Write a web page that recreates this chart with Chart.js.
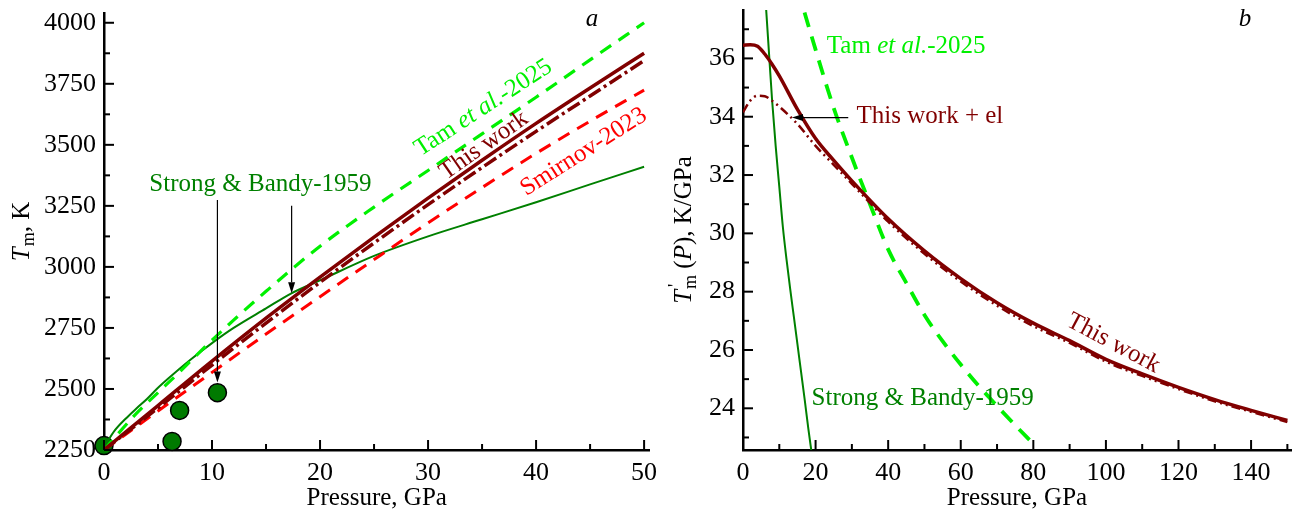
<!DOCTYPE html>
<html>
<head>
<meta charset="UTF-8">
<script src="https://cdn.jsdelivr.net/npm/chart.js@4.4.1/dist/chart.umd.min.js"></script>
<style>
  body { margin: 0; background: #fff; }
  #wrap { position: relative; width: 1292px; height: 518px; }
  .panel { position: absolute; top: 0; height: 518px; }
</style>
</head>
<body>
<div id="wrap">
  <div class="panel" style="left:0;width:660px"><canvas id="chart-a"></canvas></div>
  <div class="panel" style="left:660px;width:632px"><canvas id="chart-b"></canvas></div>
</div>
<script>
// ---- panel a : melting temperature T_m (K) vs pressure (GPa)
var ticksAX     = [0, 10, 20, 30, 40, 50];
var ticksAY     = [2250, 2500, 2750, 3000, 3250, 3500, 3750, 4000];
var pA          = [0, 5, 10, 15, 20, 25, 30, 35, 40, 45, 50];
var thisWorkA   = [2250, 2432, 2614, 2790, 2958, 3122, 3282, 3437, 3588, 3733, 3875];
var thisWorkElA = [2250, 2422, 2598, 2770, 2937, 3098, 3255, 3407, 3555, 3700, 3845];
var smirnovA    = [2250, 2410, 2568, 2725, 2878, 3030, 3180, 3325, 3465, 3597, 3724];
var tamPA       = [0, 3, 5, 7, 10, 12, 15, 20, 25, 30, 35, 40, 45, 50];
var tamA        = [2250, 2400, 2485, 2570, 2700, 2782, 2900, 3085, 3245, 3395, 3545, 3695, 3848, 4000];
var strongPA    = [0, 1, 2, 3, 4, 5, 6, 8, 10, 12, 15, 17.35, 20, 25, 30, 35, 40, 45, 50];
var strongA     = [2262, 2330, 2378, 2420, 2460, 2505, 2545, 2620, 2688, 2750, 2830, 2892, 2945, 3045, 3125, 3195, 3265, 3338, 3410];
var expP        = [0, 6.3, 7.0, 10.5];
var expT        = [2268, 2285, 2412, 2485];

// ---- panel b : slope T'_m (K/GPa) vs pressure (GPa)
var ticksBX     = [0, 20, 40, 60, 80, 100, 120, 140];
var ticksBY     = [24, 26, 28, 30, 32, 34, 36];
var pB          = [0, 2, 4, 6, 8, 10, 15, 20, 25, 30, 40, 50, 60, 70, 80, 90, 100, 110, 120, 130, 140, 150];
var thisWorkB   = [36.45, 36.47, 36.42, 36.15, 35.8, 35.4, 34.25, 33.25, 32.5, 31.8, 30.5, 29.4, 28.45, 27.62, 26.92, 26.32, 25.68, 25.18, 24.72, 24.3, 23.93, 23.58];
var thisWorkElB = [34.15, 34.55, 34.72, 34.7, 34.55, 34.35, 33.75, 33.0, 32.35, 31.7, 30.4, 29.3, 28.35, 27.52, 26.82, 26.24, 25.6, 25.11, 24.66, 24.24, 23.88, 23.53];
var tamPB       = [15, 20, 25, 30, 35, 40, 45, 50, 55, 60, 65, 70, 75, 80];
var tamB        = [38.4, 36.3, 34.3, 32.6, 31.0, 29.45, 28.3, 27.2, 26.3, 25.5, 24.76, 24.08, 23.42, 22.78];
var strongPB    = [6, 7, 8, 9, 10, 11, 12, 13, 14, 15, 16, 17, 18, 19];
var strongB     = [38.4, 36.5, 34.6, 33.0, 31.6, 30.2, 29.1, 28.1, 27.15, 26.2, 25.25, 24.3, 23.3, 22.4];

var colors = {
  maroon: '#800000',
  red: '#ff0000',
  lime: '#00f000',
  green: '#008000'
};

var serif = "'Liberation Serif', 'Times New Roman', serif";
Chart.defaults.font.family = serif;
Chart.defaults.color = '#000';

function xy(xs, ys) {
  return xs.map(function (x, i) { return { x: x, y: ys[i] }; });
}

// ---- rich text (italic / subscript pieces) on the canvas
function segFont(seg, size) {
  var s = (seg.sub || seg.sup) ? Math.round(size * 0.72) : size;
  return (seg.italic ? 'italic ' : '') + s + 'px ' + serif;
}

function richWidth(ctx, segs, size) {
  var w = 0;
  segs.forEach(function (s) {
    ctx.font = segFont(s, size);
    if (!s.overlap) w += ctx.measureText(s.text).width + (s.dx || 0);
  });
  return w;
}

function drawRich(ctx, segs, x, y, angle, size, color, align) {
  ctx.save();
  ctx.translate(x, y);
  ctx.rotate(angle * Math.PI / 180);
  ctx.fillStyle = color;
  ctx.textBaseline = 'alphabetic';
  ctx.textAlign = 'left';
  var cx = align === 'center' ? -richWidth(ctx, segs, size) / 2 : 0;
  segs.forEach(function (s) {
    ctx.font = segFont(s, size);
    var dy = s.sub ? size * 0.2 : (s.sup ? -size * 0.42 : 0);
    ctx.fillText(s.text, cx + (s.dx || 0), dy);
    if (!s.overlap) cx += ctx.measureText(s.text).width + (s.dx || 0);
  });
  ctx.restore();
}

function drawArrow(ctx, x1, y1, x2, y2) {
  var ang = Math.atan2(y2 - y1, x2 - x1);
  var L = 11, W = 3.5;
  var c = Math.cos(ang), s = Math.sin(ang);
  ctx.save();
  ctx.strokeStyle = '#000';
  ctx.fillStyle = '#000';
  ctx.lineWidth = 1.2;
  ctx.beginPath();
  ctx.moveTo(x1, y1);
  ctx.lineTo(x2 - L * c, y2 - L * s);
  ctx.stroke();
  ctx.beginPath();
  ctx.moveTo(x2, y2);
  ctx.lineTo(x2 - L * c - W * s, y2 - L * s + W * c);
  ctx.lineTo(x2 - L * c + W * s, y2 - L * s - W * c);
  ctx.closePath();
  ctx.fill();
  ctx.restore();
}

// inward tick marks, major every 2 minor steps
function drawTicks(chart, id, step) {
  var sc = chart.scales[id], ctx = chart.ctx, area = chart.chartArea;
  ctx.save();
  ctx.strokeStyle = '#000';
  ctx.lineWidth = 2;
  for (var i = Math.ceil(sc.min / step - 1e-9); i * step <= sc.max + 1e-9; i++) {
    var len = (i % 2 === 0) ? 10 : 6;
    var p = sc.getPixelForValue(i * step);
    ctx.beginPath();
    if (sc.isHorizontal()) {
      ctx.moveTo(p, area.bottom);
      ctx.lineTo(p, area.bottom - len);
    } else {
      ctx.moveTo(area.left, p);
      ctx.lineTo(area.left + len, p);
    }
    ctx.stroke();
  }
  ctx.restore();
}

function decor(cfg) {
  return {
    id: 'decor',
    afterDraw: function (chart) {
      var ctx = chart.ctx, sx = chart.scales.x, sy = chart.scales.y;
      drawTicks(chart, 'x', cfg.minorX);
      drawTicks(chart, 'y', cfg.minorY);
      drawRich(ctx, cfg.yTitle, cfg.yTitleX, (chart.chartArea.top + chart.chartArea.bottom) / 2,
        -90, 25, '#000', 'center');
      cfg.labels.forEach(function (l) {
        drawRich(ctx, l.segs, sx.getPixelForValue(l.x), sy.getPixelForValue(l.y),
          l.angle || 0, l.size || 25, l.color, 'left');
      });
      cfg.arrows.forEach(function (a) {
        drawArrow(ctx, sx.getPixelForValue(a.x1), sy.getPixelForValue(a.y1),
          sx.getPixelForValue(a.x2), sy.getPixelForValue(a.y2));
      });
    }
  };
}

function fixedTicks(values) {
  return function (s) { s.ticks = values.map(function (v) { return { value: v }; }); };
}

function axes(xMin, xMax, xTicks, yMin, yMax, yTicks, yWidth) {
  return {
    x: {
      type: 'linear', min: xMin, max: xMax,
      grid: { display: false, drawTicks: false },
      border: { display: true, color: '#000', width: 2.5 },
      ticks: { padding: 8, maxRotation: 0, autoSkip: false, font: { size: 26 }, color: '#000',
               callback: function (v) { return String(v); } },
      title: { display: true, text: 'Pressure, GPa', font: { size: 25 }, color: '#000',
               padding: { top: 0, bottom: 5 } },
      afterBuildTicks: fixedTicks(xTicks),
      afterFit: function (s) { s.height = 68; s.paddingLeft = 0; s.paddingRight = 0; }
    },
    y: {
      type: 'linear', min: yMin, max: yMax,
      grid: { display: false, drawTicks: false },
      border: { display: true, color: '#000', width: 2.5 },
      ticks: { padding: 8, autoSkip: false, font: { size: 26 }, color: '#000',
               callback: function (v) { return String(v); } },
      afterBuildTicks: fixedTicks(yTicks),
      afterFit: function (s) { s.width = yWidth; s.paddingTop = 0; s.paddingBottom = 0; }
    }
  };
}

function line(label, xs, ys, color, width, dash) {
  return {
    label: label,
    data: xy(xs, ys),
    borderColor: color,
    borderWidth: width,
    borderDash: dash || [],
    pointRadius: 0,
    fill: false,
    cubicInterpolationMode: 'monotone'
  };
}

var common = {
  animation: false,
  responsive: true,
  maintainAspectRatio: false,
  plugins: { legend: { display: false }, tooltip: { enabled: false } }
};

// ---- panel a
new Chart(document.getElementById('chart-a'), {
  type: 'line',
  data: {
    datasets: [
      line('This work', pA, thisWorkA, colors.maroon, 3.5),
      line('This work + el', pA, thisWorkElA, colors.maroon, 3.5, [14, 4, 3, 4]),
      line('Smirnov-2023', pA, smirnovA, colors.red, 3, [13, 9]),
      line('Tam et al.-2025', tamPA, tamA, colors.lime, 3.2, [13, 9]),
      line('Strong & Bandy-1959', strongPA, strongA, colors.green, 2),
      {
        type: 'scatter',
        label: 'Strong & Bandy-1959 exp',
        data: xy(expP, expT),
        pointRadius: 9,
        backgroundColor: '#007a00',
        borderColor: '#000',
        borderWidth: 1.5,
        showLine: false,
        clip: false
      }
    ]
  },
  options: Object.assign({}, common, {
    layout: { padding: { top: 13, right: 6, left: 0, bottom: 0 } },
    scales: axes(0, 50.5, ticksAX, 2250, 4040, ticksAY, 104)
  }),
  plugins: [decor({
    minorX: 5,
    minorY: 125,
    yTitleX: 28.5,
    yTitle: [{ text: 'T', italic: true }, { text: 'm', sub: true, dx: 1 }, { text: ', K' }],
    labels: [
      { segs: [{ text: 'a', italic: true }], x: 44.6, y: 3985, color: '#000' },
      { segs: [{ text: 'Tam ' }, { text: 'et al.', italic: true }, { text: '-2025' }],
        x: 29.3, y: 3452, angle: -33, color: colors.lime },
      { segs: [{ text: 'This work' }], x: 31.65, y: 3355, angle: -35, color: colors.maroon },
      { segs: [{ text: 'Smirnov-2023' }], x: 39.1, y: 3289, angle: -32.5, color: colors.red },
      { segs: [{ text: 'Strong & Bandy-1959' }], x: 4.2, y: 3311, color: colors.green }
    ],
    arrows: [
      { x1: 10.5, y1: 3274, x2: 10.5, y2: 2526 },
      { x1: 17.37, y1: 3250, x2: 17.37, y2: 2892 }
    ]
  })]
});

// ---- panel b
new Chart(document.getElementById('chart-b'), {
  type: 'line',
  data: {
    datasets: [
      line('This work', pB, thisWorkB, colors.maroon, 3.5),
      line('This work + el', pB, thisWorkElB, colors.maroon, 2.5, [9, 4, 2, 4, 2, 4]),
      line('Tam et al.-2025', tamPB, tamB, colors.lime, 3.8, [15, 10]),
      line('Strong & Bandy-1959', strongPB, strongB, colors.green, 2)
    ]
  },
  options: Object.assign({}, common, {
    layout: { padding: { top: 10, right: 1, left: 0, bottom: 0 } },
    scales: axes(0, 151, ticksBX, 22.57, 37.66, ticksBY, 83)
  }),
  plugins: [decor({
    minorX: 10,
    minorY: 1,
    yTitleX: 31,
    yTitle: [{ text: 'T', italic: true }, { text: "'", sup: true, overlap: true, dx: 3 },
             { text: 'm', sub: true, dx: 1 }, { text: ' (' }, { text: 'P', italic: true }, { text: '), K/GPa' }],
    labels: [
      { segs: [{ text: 'b', italic: true }], x: 136.6, y: 37.1, color: '#000' },
      { segs: [{ text: 'Tam ' }, { text: 'et al.', italic: true }, { text: '-2025' }],
        x: 23.1, y: 36.18, color: colors.lime },
      { segs: [{ text: 'This work + el' }], x: 31.3, y: 33.78, color: colors.maroon },
      { segs: [{ text: 'This work' }], x: 88.8, y: 26.85, angle: 28, color: colors.maroon },
      { segs: [{ text: 'Strong & Bandy-1959' }], x: 18.9, y: 24.11, color: colors.green }
    ],
    arrows: [
      { x1: 29.0, y1: 33.97, x2: 13.5, y2: 33.97 }
    ]
  })]
});
</script>
</body>
</html>
